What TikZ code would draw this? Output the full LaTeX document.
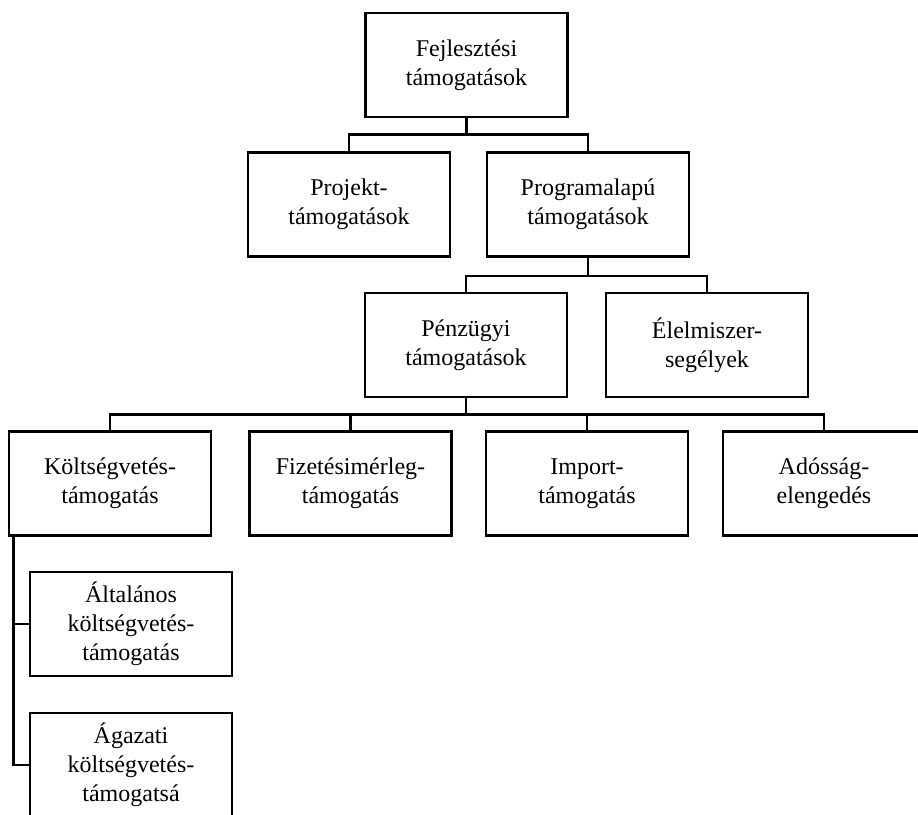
\documentclass[tikz,border=0pt]{standalone}
\usepackage{fontspec}
\setmainfont{Liberation Serif}

\tikzset{
	box/.style={draw, rectangle, line width=1.3pt, minimum width=101pt, minimum height=52pt, inner sep=2pt, align=center, font=\fontsize{12}{14.5}\selectfont},
	link/.style={line width=1.3pt}
}

\begin{document}
\begin{tikzpicture}[x=1pt, y=1pt]
	\useasboundingbox (0,0) rectangle (459,-407.5);
	\clip (0,0) rectangle (459,-407.5);
	
	\node[box] (fejl) at (233.25,-32.5) {Fejlesztési\\támogatások};
	
	\node[box] (proj) at (174.5,-102.25) {Projekt-\\támogatások};
	\node[box] (prog) at (294,-102.25) {Programalapú\\támogatások};
	
	\node[box] (penz) at (233,-172.5) {Pénzügyi\\támogatások};
	\node[box] (elel) at (353.5,-172.5) {Élelmiszer-\\segélyek};
	
	\node[box] (kolt) at (55,-241.75) {Költségvetés-\\támogatás};
	\node[box] (fiz) at (175.25,-241.75) {Fizetésimérleg-\\támogatás};
	\node[box] (imp) at (293.5,-241.75) {Import-\\támogatás};
	\node[box] (ados) at (412,-241.75) {Adósság-\\elengedés};
	
	\node[box] (alt) at (65.5,-312) {Általános\\költségvetés-\\támogatás};
	\node[box] (aga) at (65.5,-382.5) {Ágazati\\költségvetés-\\támogatsá};
	
	\draw[link] (fejl.south) -- ++(0,-8) -| (proj.north);
	\draw[link] (fejl.south) -- ++(0,-8) -| (prog.north);
	
	\draw[link] (prog.south) -- ++(0,-9) -| (penz.north);
	\draw[link] (prog.south) -- ++(0,-9) -| (elel.north);
	
	\draw[link] (penz.south) -- ++(0,-8) -| (kolt.north);
	\draw[link] (penz.south) -- ++(0,-8) -| (fiz.north);
	\draw[link] (penz.south) -- ++(0,-8) -| (imp.north);
	\draw[link] (penz.south) -- ++(0,-8) -| (ados.north);
	
	\draw[link] ([xshift=3pt]kolt.south west) |- (alt.west);
	\draw[link] ([xshift=3pt]kolt.south west) |- (aga.west);
	
\end{tikzpicture}
\end{document}
